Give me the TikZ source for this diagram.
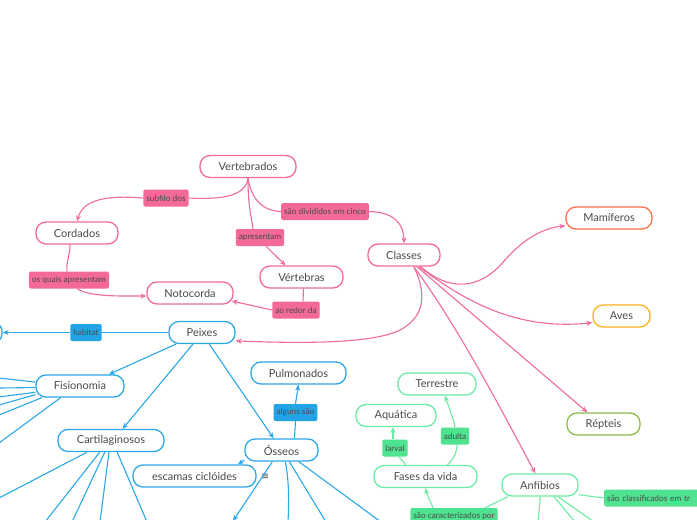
\documentclass[tikz,border=0pt]{standalone}
\usepackage{fontspec}
\setmainfont{Lato}
\newfontfamily\symfont{DejaVu Sans}
\usetikzlibrary{arrows.meta}
\definecolor{ink}{HTML}{4A4A4A}
\definecolor{pinkline}{HTML}{F06A9B}
\definecolor{pinktag}{HTML}{F2699A}
\definecolor{blueline}{HTML}{2AA8E8}
\definecolor{bluetag}{HTML}{22A5E6}
\definecolor{greenline}{HTML}{6CEBA2}
\definecolor{greentag}{HTML}{4FE290}
\definecolor{mamcol}{HTML}{FF6F4A}
\definecolor{avecol}{HTML}{FFB21E}
\definecolor{repcol}{HTML}{8DBB4B}
\begin{document}
\begin{tikzpicture}[x=1pt, y=-1pt, font=\fontsize{11}{13}\selectfont,
        box/.style={draw, fill=white, rounded corners=10pt, line width=1.3pt, minimum height=22pt, text=ink},
        tag/.style={rounded corners=2pt, minimum height=17pt, inner xsep=3pt, text=ink, font=\fontsize{8.3}{10}\selectfont},
        link/.style={line width=1.1pt},
        arr/.style={link, -{Stealth[length=6pt, width=5pt]}}]
        \fill[white] (0,0) rectangle (697,520);
        \useasboundingbox (0,0) rectangle (697,520);
        \clip (0,0) rectangle (697,520);

        % Vertebrados
        \node[box, draw=pinkline, minimum width=96pt] (vert) at (248,166.5) {Vertebrados};
        \node[box, draw=pinkline, minimum width=82pt] (cord) at (77,233) {Cordados};
        \node[box, draw=pinkline, minimum width=86pt] (noto) at (190,293) {Notocorda};
        \node[box, draw=pinkline, minimum width=83pt] (vtb) at (301.5,277) {Vértebras};
        \node[box, draw=pinkline, minimum width=72pt] (cls) at (404,255) {Classes};
        \node[tag, fill=pinktag] (subf) at (166,198) {subfilo dos};
        \node[tag, fill=pinktag] (divi) at (325,211.5) {são divididos em cinco};
        \node[tag, fill=pinktag] (apre) at (260,237.5) {apresentam};
        \node[tag, fill=pinktag] (quai) at (69,280) {os quais apresentam};
        \node[tag, fill=pinktag] (redo) at (296,310) {ao redor da};
        \draw[link, pinkline] (vert.south) .. controls (246,195) and (225,200) .. (subf.east);
        \draw[arr, pinkline] (subf.west) .. controls (105,195) and (83,200) .. (cord.north);
        \draw[link, pinkline] (vert.south) .. controls (251,198) and (262,211) .. (divi.west);
        \draw[arr, pinkline] (divi.east) .. controls (395,212) and (404,225) .. (cls.north);
        \draw[link, pinkline] (vert.south) .. controls (248,205) and (251,215) .. ([xshift=-7pt]apre.north);
        \draw[arr, pinkline] ([xshift=6pt]apre.south) -- ([xshift=-16pt]vtb.north);
        \draw[link, pinkline] ([xshift=-7pt]cord.south) .. controls (70,255) and (66,262) .. ([xshift=-2pt]quai.north);
        \draw[arr, pinkline] ([xshift=8pt]quai.south) .. controls (90,297) and (120,296) .. ([yshift=-3pt]noto.west);
        \draw[link, pinkline] ([xshift=2pt]vtb.south) -- ([xshift=7pt]redo.north);
        \draw[arr, pinkline] (redo.west) -- ([shift={(-2pt,-8pt)}]noto.east);

        % Classes
        \node[box, draw=mamcol, minimum width=86pt] (mami) at (609,218) {Mamíferos};
        \node[box, draw=avecol, minimum width=57pt] (aves) at (621.5,316) {Aves};
        \node[box, draw=repcol, minimum width=73pt] (rept) at (603.5,424) {Répteis};
        \node[box, draw=greenline, minimum width=76pt] (anf) at (540,485) {Anfíbios};
        \node[box, draw=blueline, minimum width=66pt] (peix) at (202,332.5) {Peixes};
        \draw[arr, pinkline] (cls.-50) .. controls (425,290) and (428,315) .. (400,330) .. controls (370,345) and (290,343) .. (peix.-14);
        \draw[arr, pinkline] (cls.-35) .. controls (450,292) and (480,290) .. (505,260) .. controls (525,237) and (545,228) .. (mami.190);
        \draw[arr, pinkline] (cls.-38) .. controls (470,305) and (520,330) .. (aves.193);
        \draw[arr, pinkline] (cls.-42) -- (rept.144);
        \draw[arr, pinkline] (cls.-50) .. controls (459,328) and (503,413) .. (anf.112);

        % Peixes
        \node[box, draw=blueline, minimum width=80pt] (meio) at (-38,332.5) {};
        \node[box, draw=blueline, minimum width=88pt] (fis) at (80,386) {Fisionomia};
        \node[box, draw=blueline, minimum width=106pt] (cart) at (111,440.5) {Cartilaginosos};
        \node[box, draw=blueline, minimum width=95pt] (pulm) at (298.5,373) {Pulmonados};
        \node[box, draw=blueline, minimum width=73pt] (oss) at (281.5,450) {Ósseos};
        \node[box, draw=blueline, minimum width=123pt] (esc) at (194.5,476) {escamas ciclóides};
        \node[text=ink, font=\symfont\fontsize{10}{11}\selectfont] (menu) at (265,477) {≡};
        \node[tag, fill=bluetag] (hbt) at (86,332.5) {habitat};
        \node[tag, fill=bluetag] (alg) at (295.5,412.5) {alguns são};
        \draw[link, blueline] (peix.west) -- (hbt.east);
        \draw[arr, blueline] (hbt.west) -- (meio.east);
        \draw[arr, blueline] (peix.204) -- (fis.22);
        \draw[arr, blueline] (peix.232) -- (cart.45);
        \draw[arr, blueline] (peix.-58) -- (oss.124);
        \draw[link, blueline] (oss.42) -- (alg.south);
        \draw[arr, blueline] (alg.north) -- (pulm.south);
        \draw[arr, blueline] (oss.195) -- (esc.15);
        \draw[arr, blueline] (oss.-128) -- (233,521);
        \draw[link, blueline] (oss.-72) .. controls (289,480) and (289,500) .. (288,522);
        \draw[link, blueline] (oss.-56) -- (326,522);
        \draw[link, blueline] (oss.-34) -- (381,522);
        \draw[link, blueline] (fis.175) -- (-1,378);
        \draw[link, blueline] (fis.182) -- (-1,388);
        \draw[link, blueline] (fis.188) -- (-1,397);
        \draw[link, blueline] (fis.191) -- (-1,405);
        \draw[link, blueline] (fis.197) -- (-1,415);
        \draw[link, blueline] (fis.211) -- (-1,443);
        \draw[link, blueline] (cart.206) -- (-1,498);
        \draw[link, blueline] (cart.226) -- (45,522);
        \draw[link, blueline] (cart.242) -- (72,522);
        \draw[link, blueline] (cart.260) -- (100,522);
        \draw[link, blueline] (cart.298) -- (147,522);

        % Anfibios
        \node[box, draw=greenline, minimum width=78pt] (terr) at (437,384) {Terrestre};
        \node[box, draw=greenline, minimum width=80pt] (aqua) at (396,415.5) {Aquática};
        \node[box, draw=greenline, minimum width=103pt] (fase) at (425.5,476.5) {Fases da vida};
        \node[tag, fill=greentag] (larv) at (395,448) {larval};
        \node[tag, fill=greentag] (adul) at (455,436) {adulta};
        \node[tag, fill=greentag] (cara) at (454,516.5) {são caracterizados por};
        \node[tag, fill=greentag, anchor=west, text width=110pt, align=left] (clsf) at (604,498) {são classificados em tr};
        \draw[link, greenline] (anf.200) -- ([xshift=-13pt]cara.north east);
        \draw[arr, greenline] ([xshift=-21pt]cara.north) .. controls (430,500) and (427,495) .. (fase.south);
        \draw[link, greenline] (anf.-14) -- (clsf.west);
        \draw[link, greenline] (anf.south) .. controls (540,505) and (539,512) .. (538,522);
        \draw[link, greenline] (anf.-40) -- (575,522);
        \draw[link, greenline] (anf.-33) -- (594,522);
        \draw[link, greenline] ([xshift=-20pt]fase.north) .. controls (403,460) and (400,460) .. ([xshift=4pt]larv.south);
        \draw[arr, greenline] ([xshift=-2pt]larv.north) -- ([xshift=-3pt]aqua.south);
        \draw[link, greenline] ([xshift=22pt]fase.north) .. controls (455,458) and (457,450) .. ([xshift=2pt]adul.south);
        \draw[arr, greenline] (adul.north) .. controls (454,420) and (448,405) .. ([xshift=8pt]terr.south);
\end{tikzpicture}
\end{document}
